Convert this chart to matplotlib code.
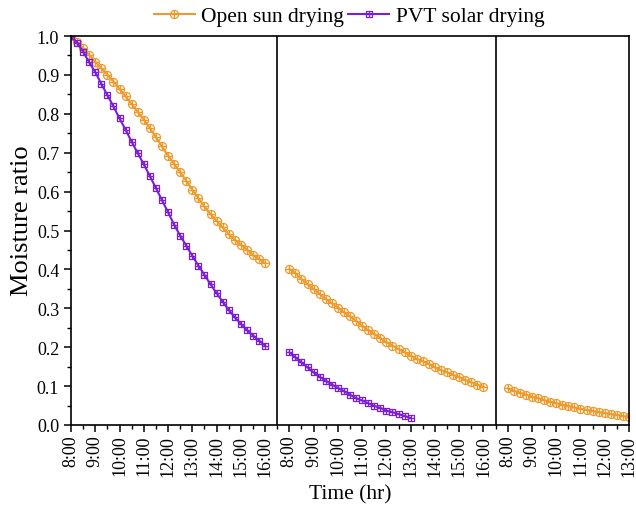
import numpy as np
import matplotlib
matplotlib.use("Agg")
import matplotlib.pyplot as plt
from matplotlib.path import Path
from matplotlib.ticker import MultipleLocator, FixedLocator, FixedFormatter

plt.rcParams['font.family'] = ['Liberation Serif', 'DejaVu Serif']
plt.rcParams['mathtext.fontset'] = 'stix'

# ---------------- data ----------------
# three drying days, readings every 15 minutes starting 8:00
day1_hours = ["8:00", "9:00", "10:00", "11:00", "12:00", "13:00", "14:00", "15:00", "16:00"]
day2_hours = ["8:00", "9:00", "10:00", "11:00", "12:00", "13:00", "14:00", "15:00", "16:00"]
day3_hours = ["8:00", "9:00", "10:00", "11:00", "12:00", "13:00"]
step_hr = 0.25

open_day1 = [1.000, 0.984, 0.968, 0.951, 0.934, 0.917, 0.900, 0.883, 0.864, 0.845, 0.825,
             0.805, 0.785, 0.763, 0.740, 0.716, 0.692, 0.671, 0.650, 0.628, 0.605, 0.583,
             0.562, 0.542, 0.525, 0.508, 0.491, 0.476, 0.463, 0.451, 0.437, 0.427, 0.416]
open_day2 = [0.401, 0.390, 0.375, 0.362, 0.350, 0.337, 0.324, 0.313, 0.302, 0.290, 0.279,
             0.268, 0.255, 0.244, 0.234, 0.224, 0.213, 0.204, 0.195, 0.187, 0.178, 0.170,
             0.164, 0.157, 0.148, 0.141, 0.135, 0.129, 0.123, 0.116, 0.110, 0.104, 0.098]
open_day3 = [0.094, 0.088, 0.083, 0.078, 0.073, 0.069, 0.064, 0.060, 0.056, 0.052, 0.049,
             0.045, 0.042, 0.039, 0.036, 0.033, 0.031, 0.028, 0.026, 0.023, 0.021]

pvt_day1 = [1.000, 0.982, 0.960, 0.932, 0.907, 0.877, 0.848, 0.819, 0.788, 0.759, 0.728,
            0.699, 0.670, 0.640, 0.609, 0.578, 0.547, 0.515, 0.487, 0.461, 0.435, 0.410,
            0.386, 0.362, 0.339, 0.317, 0.296, 0.277, 0.260, 0.244, 0.230, 0.217, 0.204]
pvt_day2 = [0.187, 0.174, 0.161, 0.148, 0.135, 0.124, 0.114, 0.104, 0.095, 0.087, 0.078,
            0.069, 0.063, 0.056, 0.049, 0.044, 0.037, 0.033, 0.028, 0.023, 0.018]

series_names = ["Open sun drying", "PVT solar drying"]
colors = ["#EF9A2C", "#7A1ED8"]

# ---------------- layout helpers ----------------
day_offsets = [0, len(day1_hours), len(day1_hours) + len(day2_hours)]  # axis hour offsets
day_labels = [day1_hours, day2_hours, day3_hours]


def xs(day, values):
    return day_offsets[day] + np.arange(len(values)) * step_hr


# custom Origin-like markers
_plus = Path([[-1, 0], [1, 0], [0, -1], [0, 1]],
             [Path.MOVETO, Path.LINETO, Path.MOVETO, Path.LINETO])
oplus = Path.make_compound_path(Path.unit_circle(), _plus)
_sq = Path([[-1, -1], [1, -1], [1, 1], [-1, 1], [-1, -1]],
           [Path.MOVETO, Path.LINETO, Path.LINETO, Path.LINETO, Path.CLOSEPOLY])
boxplus = Path.make_compound_path(_sq, _plus)

fig = plt.figure(figsize=(6.36, 5.10), dpi=100)
ax = fig.add_axes([71 / 636, 1 - 426 / 510, 558 / 636, 389 / 510])

style_open = dict(color=colors[0], lw=1.5, marker=oplus, ms=5.8, mfc='none', mew=0.9)
style_pvt = dict(color=colors[1], lw=1.5, marker=boxplus, ms=4.8, mfc='none', mew=0.9)

h_open = None
for d, vals in enumerate([open_day1, open_day2, open_day3]):
    ln, = ax.plot(xs(d, vals), vals, **style_open)
    h_open = h_open or ln
h_pvt = None
for d, vals in enumerate([pvt_day1, pvt_day2]):
    ln, = ax.plot(xs(d, vals), vals, **style_pvt)
    h_pvt = h_pvt or ln

# day separators
for off in day_offsets[1:]:
    ax.axvline(off - 0.5, color='black', lw=1.2)

total = day_offsets[-1] + len(day3_hours) - 1
ax.set_xlim(0, total)
ax.set_ylim(0, 1.0)

tick_pos, tick_lab = [], []
for d, labs in enumerate(day_labels):
    for i, lab in enumerate(labs):
        tick_pos.append(day_offsets[d] + i)
        tick_lab.append(lab)
ax.xaxis.set_major_locator(FixedLocator(tick_pos))
ax.xaxis.set_major_formatter(FixedFormatter(tick_lab))
ax.xaxis.set_minor_locator(MultipleLocator(0.5))
ax.yaxis.set_major_locator(MultipleLocator(0.1))
ax.yaxis.set_minor_locator(MultipleLocator(0.05))
ax.yaxis.set_major_formatter(matplotlib.ticker.FormatStrFormatter('%.1f'))

ax.tick_params(axis='both', which='major', direction='out', length=5, width=1.1, labelsize=13)
ax.tick_params(axis='both', which='minor', direction='out', length=3, width=1.0)
ax.tick_params(axis='x', which='major', labelrotation=90, pad=2)
for s in ax.spines.values():
    s.set_linewidth(1.2)

ax.set_xlabel("Time (hr)", fontsize=15.5, labelpad=6)
ax.set_ylabel("Moisture ratio", fontsize=19)
ax.yaxis.set_label_coords(-0.068, 0.527)

fig.legend([h_open, h_pvt], series_names, loc='center', bbox_to_anchor=(0.549, 0.966),
           bbox_transform=fig.transFigure,
           ncol=2, frameon=False, fontsize=15.5, handlelength=1.9, handletextpad=0.3,
           columnspacing=0.2, borderaxespad=0.0, borderpad=0.1)

fig.savefig("out.png", dpi=100)
